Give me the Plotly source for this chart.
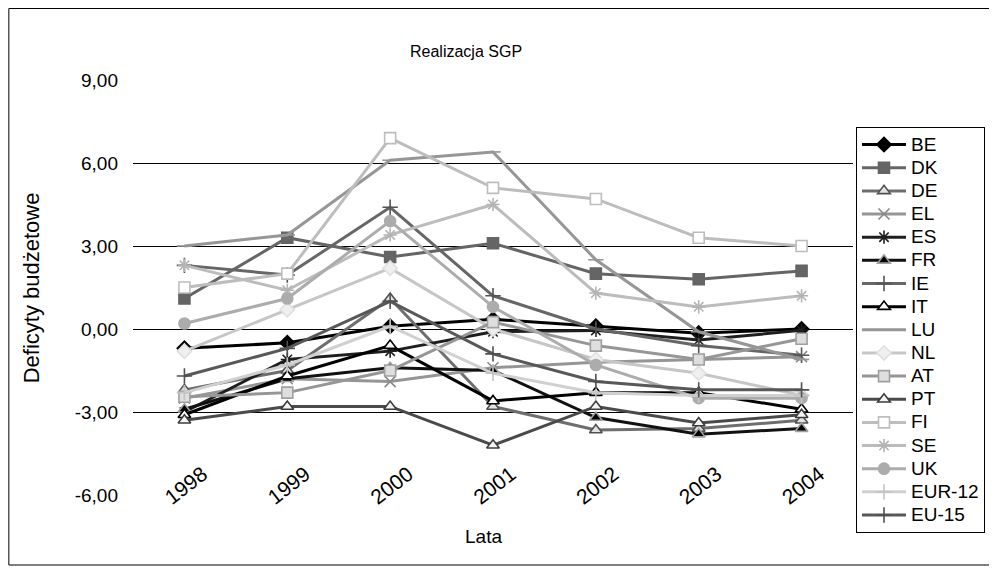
import plotly.graph_objects as go

years = ["1998", "1999", "2000", "2001", "2002", "2003", "2004"]

BE = [-0.7, -0.5, 0.1, 0.35, 0.1, -0.15, 0.0]
DK = [1.1, 3.3, 2.6, 3.1, 2.0, 1.8, 2.1]
DE = [-2.2, -1.5, 1.1, -2.8, -3.65, -3.6, -3.3]
EL = [-2.5, -1.8, -1.9, -1.4, -1.2, -1.1, -1.0]
ES = [-3.0, -1.1, -0.8, -0.1, -0.05, -0.4, -0.05]
FR = [-2.9, -1.8, -1.4, -1.5, -3.2, -3.8, -3.6]
IE = [2.3, 1.95, 4.4, 1.2, 0.0, -0.6, -0.95]
IT = [-3.1, -1.7, -0.6, -2.6, -2.3, -2.3, -2.9]
LU = [3.0, 3.4, 6.1, 6.4, 2.5, -0.1, -1.1]
NL = [-0.8, 0.7, 2.2, 0.0, -1.1, -1.6, -2.4]
AT = [-2.45, -2.3, -1.5, 0.25, -0.6, -1.1, -0.35]
PT = [-3.3, -2.8, -2.8, -4.2, -2.8, -3.4, -3.1]
FI = [1.5, 2.0, 6.9, 5.1, 4.7, 3.3, 3.0]
SE = [2.3, 1.4, 3.4, 4.5, 1.3, 0.8, 1.2]
UK = [0.2, 1.1, 3.9, 0.8, -1.3, -2.5, -2.5]
EUR12 = [-2.3, -1.3, 0.1, -1.6, -2.3, -2.4, -2.4]
EU15 = [-1.7, -0.7, 1.0, -0.9, -1.9, -2.2, -2.2]

y_tickvals = [-6, -3, 0, 3, 6, 9]
y_ticktext = ["-6,00", "-3,00", "0,00", "3,00", "6,00", "9,00"]

FONT = "Liberation Sans, Arial, sans-serif"

# name, values, line colour, symbol, marker fill, marker outline
series = [
    ("BE", BE, "#000000", "diamond", "#000000", "#000000"),
    ("DK", DK, "#656565", "square", "#656565", "#656565"),
    ("DE", DE, "#6e6e6e", "triangle-up", "#e2e2e2", "#505050"),
    ("EL", EL, "#959595", "x-thin-open", "#8a8a8a", "#8a8a8a"),
    ("ES", ES, "#1e1e1e", "asterisk-open", "#1e1e1e", "#1e1e1e"),
    ("FR", FR, "#111111", "triangle-up", "#000000", "#a0a0a0"),
    ("IE", IE, "#666666", "cross-thin-open", "#555555", "#555555"),
    ("IT", IT, "#000000", "triangle-up", "#ffffff", "#000000"),
    ("LU", LU, "#969696", "line-ew-open", "#969696", "#969696"),
    ("NL", NL, "#c6c6c6", "diamond", "#efefef", "#e0e0e0"),
    ("AT", AT, "#969696", "square", "#dedede", "#a0a0a0"),
    ("PT", PT, "#4a4a4a", "triangle-up", "#f4f4f4", "#3c3c3c"),
    ("FI", FI, "#bdbdbd", "square", "#ffffff", "#bdbdbd"),
    ("SE", SE, "#bcbcbc", "asterisk-open", "#b4b4b4", "#b4b4b4"),
    ("UK", UK, "#acacac", "circle", "#acacac", "#acacac"),
    ("EUR-12", EUR12, "#d0d0d0", "cross-thin-open", "#c4c4c4", "#c4c4c4"),
    ("EU-15", EU15, "#585858", "cross-thin-open", "#505050", "#505050"),
]

fig = go.Figure()
for name, vals, lc, sym, fill, outline in series:
    fig.add_trace(go.Scatter(
        x=years, y=vals, name='<span style="font-size:19px">' + name + "</span>",
        mode="lines+markers",
        line=dict(color=lc, width=3),
        marker=dict(symbol=sym, size=11, color=fill,
                    line=dict(color=outline, width=1.6)),
    ))

# page body has an 8px margin: work in screen pixels minus 8
OFF = 8
W, H = 997 - OFF, 570 - OFF
L, R, T, B = 133 - OFF, 855 - OFF, 80 - OFF, 495 - OFF
ph = B - T
pw = R - L


def px(x):
    return (x - OFF - L) / pw


def py(y):
    return (B - (y - OFF)) / ph


fig.update_layout(
    width=W, height=H,
    margin=dict(l=L, r=W - R, t=T, b=H - B, pad=0),
    paper_bgcolor="white", plot_bgcolor="white",
    font=dict(family=FONT, size=19, color="#000000"),
    showlegend=True,
    legend=dict(
        x=px(858), xanchor="left",
        y=py(127), yanchor="top",
        bordercolor="#000000", borderwidth=1,
        font=dict(family=FONT, size=15.5, color="#000000"),
        tracegroupgap=0, itemwidth=44,
        bgcolor="white",
    ),
    xaxis=dict(
        type="category", range=[-0.5, 6.5],
        showgrid=False, zeroline=False, showline=False, ticks="",
        tickangle=-38, anchor="free", position=py(457),
        tickfont=dict(family=FONT, size=21, color="#000000"),
        ticklabelshift=18,
    ),
    yaxis=dict(
        range=[-6, 9], tickvals=y_tickvals, ticktext=y_ticktext,
        showgrid=True, gridcolor="#000000", gridwidth=1,
        zeroline=False, showline=False, ticks="",
        tickfont=dict(family=FONT, size=19, color="#000000"),
        ticklabelstandoff=14,
    ),
    annotations=[
        dict(text="Realizacja SGP", xref="paper", yref="paper",
             x=px(467), y=py(52), showarrow=False,
             font=dict(family=FONT, size=16, color="#000000"),
             xanchor="center", yanchor="middle"),
        dict(text="Lata", xref="paper", yref="paper",
             x=px(484), y=py(536), showarrow=False,
             font=dict(family=FONT, size=19, color="#000000"),
             xanchor="center", yanchor="middle"),
        dict(text="Deficyty budżetowe", xref="paper", yref="paper",
             x=px(31), y=py(288), showarrow=False,
             textangle=-90,
             font=dict(family=FONT, size=22, color="#000000"),
             xanchor="center", yanchor="middle"),
    ],
    shapes=[
        dict(type="rect", xref="paper", yref="paper",
             x0=px(8.5), x1=px(1010),
             y0=py(565), y1=py(8.5),
             line=dict(color="#000000", width=1), fillcolor="rgba(0,0,0,0)",
             layer="below"),
    ],
)

fig.write_html("out.html")
